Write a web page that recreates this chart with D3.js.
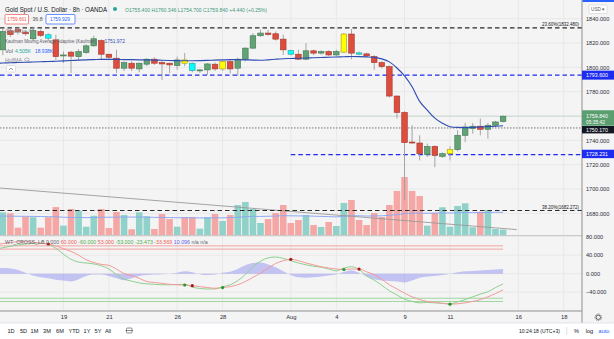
<!DOCTYPE html>
<html><head><meta charset="utf-8">
<script src="https://cdn.jsdelivr.net/npm/d3@7"></script>
<style>
html,body{margin:0;padding:0;background:#fff;}
svg{display:block;font-family:"Liberation Sans",Arial,sans-serif;}
</style></head><body>
<svg id="c" width="614" height="339"></svg>
<script>
// ---------------- DATA (bars -1 .. 66, 8h bars) ----------------
const barIndex = d3.range(-1, 67);
const open  = [1826,1814.4,1830,1831,1829,1823.5,1829.5,1826.8,1822.6,1809.8,1812.5,1808.8,1812.2,1817.7,1822,1810.8,1807.5,1799.3,1803.4,1798.7,1802.6,1806.7,1803.9,1803.4,1801.4,1806.1,1803.4,1797.6,1797.9,1802.6,1798.7,1804.7,1799.3,1806.7,1815.8,1826,1828.2,1827.6,1823.2,1813.8,1810.8,1806.7,1813.6,1811.7,1813,1810.2,1812.5,1827.4,1811.9,1811.1,1808.8,1803.9,1800.6,1776.4,1762.9,1738.6,1737.8,1728.4,1735,1726.8,1729,1732.3,1744.1,1749.7,1751.6,1749.1,1752.4,1755.4];
const high  = [1830,1832,1832,1832.5,1830,1833.4,1831,1828,1826.8,1813,1813.5,1815,1819,1826,1823,1811,1814.4,1805,1805,1804,1807.5,1808.3,1806.1,1804,1808.8,1811.7,1804,1798.7,1803.5,1804,1805.5,1806,1808,1816.5,1828.2,1831,1831,1829.5,1826.8,1814.5,1814.4,1819.9,1814.5,1814,1814,1814.5,1828.2,1831.5,1813,1812,1810,1805,1801.5,1777,1764,1752.4,1744.1,1737.3,1736,1730,1735,1748.3,1754.3,1754.3,1757.9,1754.3,1756,1760.346];
const low   = [1810,1810,1825,1827,1826,1822,1825,1822,1806.1,1803.6,1795.4,1806,1811,1817,1806,1807,1795.4,1797,1797,1796,1801,1802,1789.6,1795.4,1797.9,1801,1796,1795.4,1793.7,1797,1797,1795,1792.9,1805,1815,1825,1826,1822,1810.2,1810,1806,1806,1810,1810.5,1809,1809,1811.7,1806.7,1810,1808.5,1797.9,1799,1775.3,1757.9,1690.6,1737.3,1723.5,1726.2,1717.9,1725.5,1723.5,1731,1738.6,1745.5,1744.1,1741.4,1751,1754.7];
const close = [1815,1829.5,1827,1829.2,1827.6,1830.3,1826.2,1824,1808.8,1810.2,1809.2,1813,1817.7,1823.5,1810.8,1808.3,1799.3,1803.9,1799.3,1803.4,1806.7,1803.4,1802.8,1802,1806.1,1803.4,1797.3,1797.9,1802.8,1798.7,1804.7,1798.7,1806.7,1815.8,1826,1828.2,1827,1823.2,1814.4,1810.8,1806.7,1813.6,1811.7,1813,1810.2,1813,1827.4,1811.7,1810.8,1809.4,1803.9,1800.6,1776.4,1762.9,1738.1,1737.8,1729,1735,1727.6,1729,1732.3,1744.1,1751,1751.6,1749.1,1752.4,1755.1,1759.84];
const volumeK = [16.7,18.9,18.1,6.1,15.3,14.8,6.1,14.8,23.3,7.8,21.7,20.3,6.9,16.1,21.7,5.8,19.2,16.7,4.8,18.9,15.6,5.0,17.5,13.3,6.9,15.0,15.0,5.3,15.0,17.5,11.7,16.7,25.0,27.5,21.7,10.0,13.3,18.3,25.0,10.0,12.5,16.7,8.3,6.7,10.8,7.5,26.7,29.2,12.5,8.3,18.3,15.0,25.0,36.7,48.3,36.7,32.5,7.8,18.6,23.1,6.9,24.2,26.4,6.4,19.4,20.8,5.0,4.505];
const volMA = [15.8,15.8,15.7,15.6,15.6,15.5,15.4,15.3,15.2,14.8,14.6,14.6,14.5,14.6,14.8,14.8,14.9,15.0,14.9,15.0,14.9,14.7,14.6,14.5,14.4,14.4,14.3,14.2,14.2,14.3,14.3,14.5,14.8,15.2,15.5,15.5,15.6,15.8,16.1,16.0,15.9,15.9,15.7,15.5,15.3,15.1,15.6,16.1,16.0,15.8,15.9,16.0,16.4,17.0,17.8,18.2,18.3,18.1,18.2,18.4,18.3,18.5,18.7,18.6,18.7,18.8,18.9,18.938];
const kama = [1803.4,1803.6,1803.8,1804.0,1804.2,1804.4,1804.6,1804.8,1805.0,1805.3,1805.6,1805.9,1806.2,1806.4,1806.6,1806.6,1806.5,1806.4,1806.3,1806.2,1806.1,1806.0,1805.8,1805.6,1805.5,1805.4,1805.4,1805.5,1805.7,1805.9,1806.1,1806.3,1806.3,1806.2,1806.0,1805.8,1806.2,1806.7,1807.1,1807.3,1807.5,1807.7,1807.9,1808.1,1808.3,1808.5,1808.7,1808.9,1808.8,1808.6,1808.2,1807.0,1804.5,1799.5,1793.0,1784.0,1772.0,1764.8,1758.2,1754.0,1751.2,1750.6,1750.5,1750.7,1751.0,1751.3,1751.6,1751.972];
const wt1 = [52,56,59,62,64,65.5,66,63,55,42,31,25,23,21,17,10,-2,-12,-16,-20,-22,-23,-24,-24,-23.5,-23,-29,-32,-33,-33,-28,-24,-15,-2,15,27,34,36,33,28,23,19,16,14,10,6,12,15,9,-5,-14,-25,-37,-46,-55,-60,-63,-62,-63,-64,-65,-61,-56,-50,-44,-39,-30,-22];
const wt2 = [62,65,67,69,69,68,66,64,60,54,48,40,30,24,20,18,10,0,-4,-10,-17,-19,-21,-23,-24,-24.5,-26,-28,-30,-31.5,-30,-28,-24,-17,-8,1,12,22,28,31,28,23,19,15,12,10,9,10,10,4,-2,-12,-24,-33,-42,-50,-56,-60,-62,-64,-65.8,-65,-63,-60,-56,-50,-43,-35];
const wtHist = [12,12,11,8,2,-4,-8,-10,-13,-15,-17,-12,-5,-2,-2,-5,-10,-14,-10,-5,-3,-2,-1,0,2,5,3,-1,-3,-2,2,4,10,18,23,24,20,14,5,-3,-8,-9,-8,-6,-4,-2,4,7,2,-6,-12,-15,-16,-17,-19,-15,-9,-6,-5,-3,0,3,5,6,7,8,9,10];
const crossBars = [6,24,25,29,38,45,47,59];
const dateTicks = ["19","21","26","28","Aug","4","9","11","16","18"];
const dateTickBars = [8,14,23,29,38,44,53,59,68,74];
const priceTicks = [1680,1700,1720,1740,1760,1780,1800,1820,1840];
const wtTicks = [80,40,0,-40];
const wtLevels = [60,53,-60,-53];
const fibLabels = ["23.60%(1832.480)","38.20%(1682.272)"];
const fibValues = [1832.48,1682.272];
const resistanceLevel = 1793.6;
const supportLevel = 1728.231, supportStartBar = 38;
const prevCloseLevel = 1750.17;
const lastPrice = 1759.84;
const trendBars = [-0.4, 67.8], trendValues = [1700.8, 1666.6];
const rangeButtons = ["1D","5D","1M","3M","6M","YTD","1Y","5Y","All"];

// ---------------- SCALES ----------------
const AX = 582, MAIN_B = 235.5, IND_T = 236, IND_B = 311;
const x  = d3.scaleLinear().domain([0, 74]).range([2.8, 563.7]);
const yP = d3.scaleLinear().domain([1840, 1680]).range([18.7, 213.3]);
const yV = d3.scaleLinear().domain([0, 100]).range([235, 115]);
const yW = d3.scaleLinear().domain([80, -40]).range([236.6, 292.2]);

const svg = d3.select("#c");
const defs = svg.append("defs");
defs.append("clipPath").attr("id","cm").append("rect").attr("x",0).attr("y",0).attr("width",AX).attr("height",MAIN_B);
defs.append("clipPath").attr("id","ci").append("rect").attr("x",0).attr("y",IND_T).attr("width",AX).attr("height",IND_B-IND_T);

svg.append("rect").attr("width",614).attr("height",339).attr("fill","#ffffff");
svg.append("rect").attr("width",614).attr("height",323).attr("fill","#f4f4f4");

const grid = svg.append("g").attr("stroke","#e8e8e8").attr("stroke-width",1);
grid.selectAll(".vg").data(dateTickBars).join("line")
  .attr("x1",d=>x(d)).attr("x2",d=>x(d)).attr("y1",0).attr("y2",IND_B);
grid.selectAll(".hg").data(priceTicks).join("line")
  .attr("x1",0).attr("x2",AX).attr("y1",d=>yP(d)).attr("y2",d=>yP(d));
grid.selectAll(".wg").data(wtTicks).join("line")
  .attr("x1",0).attr("x2",AX).attr("y1",d=>yW(d)).attr("y2",d=>yW(d));

const rows = barIndex.map((b,i)=>({b, o:open[i], h:high[i], l:low[i], c:close[i], v:volumeK[i], ma:volMA[i], k:kama[i], w1:wt1[i], w2:wt2[i], hist:wtHist[i]}));

// ---------------- MAIN PANE ----------------
const main = svg.append("g").attr("clip-path","url(#cm)");
main.selectAll(".vol").data(rows).join("rect")
  .attr("x",d=>x(d.b)-3.3).attr("width",6.6)
  .attr("y",d=>yV(d.v)).attr("height",d=>yV(0)-yV(d.v))
  .attr("fill",d=>d.c>=d.o ? "#90d2c9" : "#f5a7a5");
main.append("path").datum(rows).attr("fill","none").attr("stroke","#8ea8f3").attr("stroke-width",1)
  .attr("d",d3.line().x(d=>x(d.b)).y(d=>yV(d.ma)));
main.append("line").attr("x1",x(trendBars[0])).attr("x2",x(trendBars[1]))
  .attr("y1",yP(trendValues[0])).attr("y2",yP(trendValues[1]))
  .attr("stroke","#9a9a9a").attr("stroke-width",0.9);

fibValues.forEach(v=>{
  main.append("line").attr("x1",0).attr("x2",AX).attr("y1",yP(v)).attr("y2",yP(v))
    .attr("stroke","#2a2a2a").attr("stroke-width",1.1).attr("stroke-dasharray","4.5,3");
});
main.append("line").attr("x1",0).attr("x2",AX).attr("y1",yP(resistanceLevel)).attr("y2",yP(resistanceLevel))
  .attr("stroke","#1e2cf0").attr("stroke-width",1.1).attr("stroke-dasharray","4.5,3");
main.append("line").attr("x1",x(supportStartBar)).attr("x2",AX).attr("y1",yP(supportLevel)).attr("y2",yP(supportLevel))
  .attr("stroke","#1e2cf0").attr("stroke-width",1.1).attr("stroke-dasharray","4.5,3");
main.append("line").attr("x1",0).attr("x2",AX).attr("y1",yP(prevCloseLevel)).attr("y2",yP(prevCloseLevel))
  .attr("stroke","#555").attr("stroke-width",0.8).attr("stroke-dasharray","1.5,1.5");
main.append("line").attr("x1",0).attr("x2",AX).attr("y1",yP(lastPrice)).attr("y2",yP(lastPrice))
  .attr("stroke","#5b9e70").attr("stroke-width",0.7).attr("opacity",0.35);

function barColor(d){
  const ci = crossBars.indexOf(d.b);
  if (ci >= 0) return d.w1 > d.w2 ? ["#ffff00","#a89a00"] : ["#00ffff","#2b9b9b"];
  return d.c >= d.o ? ["#62a275","#3f7a52"] : ["#dc4d3e","#a5372b"];
}
main.selectAll(".wick").data(rows).join("line")
  .attr("x1",d=>x(d.b)).attr("x2",d=>x(d.b)).attr("y1",d=>yP(d.h)).attr("y2",d=>yP(d.l))
  .attr("stroke","#9c9c9c").attr("stroke-width",0.9);
main.selectAll(".body").data(rows).join("rect")
  .attr("x",d=>x(d.b)-2.8).attr("width",5.6)
  .attr("y",d=>yP(Math.max(d.o,d.c)))
  .attr("height",d=>Math.max(1, Math.abs(yP(d.o)-yP(d.c))))
  .attr("fill",d=>barColor(d)[0]).attr("stroke",d=>barColor(d)[1]).attr("stroke-width",0.6);
main.append("path").datum(rows).attr("fill","none").attr("stroke","#2f4db3").attr("stroke-width",1.15)
  .attr("d",d3.line().curve(d3.curveMonotoneX).x(d=>x(d.b)).y(d=>yP(d.k)));

fibValues.forEach((v,i)=>{
  svg.append("text").attr("x",579).attr("y",yP(v)-1.8).attr("text-anchor","end")
    .attr("textLength",37).attr("lengthAdjust","spacingAndGlyphs")
    .style("font-size","5.6px").attr("fill","#131722").text(fibLabels[i]);
});

// ---------------- LEGEND ----------------
function txt(xp, yp, s, fs, fill, w, anchor){
  const t = svg.append("text").attr("x",xp).attr("y",yp).style("font-size",fs+"px").attr("fill",fill).text(s);
  if (w) t.attr("textLength",w).attr("lengthAdjust","spacingAndGlyphs");
  if (anchor) t.attr("text-anchor",anchor);
  return t;
}
function fitTxt(xp, yp, s, fs, fill, w){
  const t = svg.append("text").attr("x",xp).attr("y",yp).style("font-size",fs+"px").attr("fill",fill).text(s);
  const nw = t.node().getComputedTextLength();
  t.style("font-size",(fs*w/nw)+"px");
  return t;
}
txt(5, 11.5, "Gold Spot / U.S. Dollar · 8h · OANDA", 6.8, "#131722", 102);
svg.append("circle").attr("cx",115).attr("cy",9).attr("r",2).attr("fill","#26a69a");
txt(125, 11.5, `O${open[open.length-1].toFixed(3)} H${high[high.length-1].toFixed(3)} L${low[low.length-1].toFixed(3)} C${close[close.length-1].toFixed(3)} +4.440 (+0.25%)`, 5.6, "#3f9a80", 142);
svg.append("rect").attr("x",5).attr("y",14.5).attr("width",23.5).attr("height",9.5).attr("rx",1).attr("fill","#fff").attr("stroke","#ef5350").attr("stroke-width",0.7);
txt(7.3, 21.4, "1759.661", 5.4, "#ef5350", 19.4);
txt(32.5, 21.4, "36.8", 5.4, "#555", 10);
svg.append("rect").attr("x",46).attr("y",14.5).attr("width",29).attr("height",9.5).attr("rx",1).attr("fill","#fff").attr("stroke","#2962ff").attr("stroke-width",0.7);
txt(50, 21.4, "1759.929", 5.4, "#2962ff", 20);
txt(5, 33, "Chaikin", 6, "#8a8d96", 22);
svg.append("ellipse").attr("cx",31.5).attr("cy",30.5).attr("rx",2.3).attr("ry",1.5).attr("fill","none").attr("stroke","#888").attr("stroke-width",0.6);
fitTxt(5, 43, "Kaufman Moving Average Adaptive (Kaufman)", 6, "#5d606b", 92);
fitTxt(104.5, 43, "1751.972", 6, "#2f4db3", 20.5);
txt(5, 53, "Vol", 6, "#5d606b", 8);
txt(15, 53, "4.505K", 6, "#26a69a", 16);
txt(35, 53, "18.938K", 6, "#2962ff", 18);
txt(5, 62, "HullMA", 6, "#8a8d96", 17);
svg.append("ellipse").attr("cx",26.8).attr("cy",59.5).attr("rx",2.3).attr("ry",1.5).attr("fill","none").attr("stroke","#888").attr("stroke-width",0.6);
svg.append("rect").attr("x",6.5).attr("y",65.5).attr("width",9).attr("height",6.5).attr("rx",1).attr("fill","#fff").attr("stroke","#d0d0d0").attr("stroke-width",0.6);
svg.append("path").attr("d","M9,70 L11,68 L13,70").attr("fill","none").attr("stroke","#555").attr("stroke-width",0.6);

// ---------------- INDICATOR PANE ----------------
const ind = svg.append("g").attr("clip-path","url(#ci)");
const lastBar = barIndex[barIndex.length-1];
wtLevels.forEach(v=>{
  ind.append("line").attr("x1",0).attr("x2",x(lastBar)).attr("y1",yW(v)).attr("y2",yW(v))
    .attr("stroke", v>0 ? "#f3a3a3" : "#9fd69f").attr("stroke-width",1);
});
ind.append("path").datum(rows).attr("fill","rgba(100,100,240,0.35)").attr("stroke","none")
  .attr("d",d3.area().curve(d3.curveMonotoneX).x(d=>x(d.b)).y0(yW(0)).y1(d=>yW(d.hist)));
ind.append("path").datum(rows).attr("fill","none").attr("stroke","#8fd08f").attr("stroke-width",1)
  .attr("d",d3.line().curve(d3.curveMonotoneX).x(d=>x(d.b)).y(d=>yW(d.w1)));
ind.append("path").datum(rows).attr("fill","none").attr("stroke","#f29a9a").attr("stroke-width",1)
  .attr("d",d3.line().curve(d3.curveMonotoneX).x(d=>x(d.b)).y(d=>yW(d.w2)));
const crossRows = rows.filter(d=>crossBars.includes(d.b));
ind.selectAll(".dot").data(crossRows).join("circle")
  .attr("cx",d=>x(d.b)).attr("cy",d=>yW(d.w2)).attr("r",1.6)
  .attr("fill",d=>d.w1>d.w2 ? "#1f9a2a" : "#a81a1a");

(function(){
  const segs = [["WT_CROSS_LB 0.000","#5d606b"],["60.000","#f0605a"],["-60.000","#4caf50"],["53.000","#f0605a"],["-53.000","#4caf50"],["-23.473","#4caf50"],["-33.569","#f0605a"],["10.096","#5c5cf0"],["n/a n/a","#5d606b"]];
  const t = svg.append("text").attr("x",5).attr("y",244.2).style("font-size","6px");
  segs.forEach((s,i)=>t.append("tspan").attr("fill",s[1]).text((i?" ":"")+s[0]));
  const w = t.node().getComputedTextLength();
  t.style("font-size",(6*203/w)+"px");
})();

// ---------------- FRAME / AXES ----------------
svg.append("line").attr("x1",0).attr("x2",AX).attr("y1",MAIN_B).attr("y2",MAIN_B).attr("stroke","#c9c9c9").attr("stroke-width",1);
svg.append("line").attr("x1",0).attr("x2",AX).attr("y1",IND_B).attr("y2",IND_B).attr("stroke","#8f8f8f").attr("stroke-width",1);
svg.append("line").attr("x1",AX).attr("x2",AX).attr("y1",0).attr("y2",323).attr("stroke","#8f8f8f").attr("stroke-width",1);
svg.append("rect").attr("x",AX+0.5).attr("y",0).attr("width",32).attr("height",2).attr("fill","#2962ff");

function styleAxis(g, fs){
  g.select(".domain").remove();
  g.selectAll("line").remove();
  g.selectAll("text").style("font-size",fs+"px").style("font-family","'Liberation Sans',Arial,sans-serif").attr("fill","#2a2e39");
}
const pa = svg.append("g").attr("transform",`translate(${AX},0)`)
  .call(d3.axisRight(yP).tickValues(priceTicks).tickSize(0).tickPadding(4).tickFormat(d3.format(".3f")));
styleAxis(pa, 5.6);
const wa = svg.append("g").attr("transform",`translate(${AX},0)`)
  .call(d3.axisRight(yW).tickValues(wtTicks).tickSize(0).tickPadding(4).tickFormat(d3.format(".3f")));
styleAxis(wa, 5.6);
const da = svg.append("g").attr("transform",`translate(0,${IND_B})`)
  .call(d3.axisBottom(x).tickValues(dateTickBars).tickSize(0).tickPadding(4.2).tickFormat((d,i)=>dateTicks[i]));
styleAxis(da, 5.8);

svg.append("rect").attr("x",589).attr("y",5).attr("width",18).attr("height",8.5).attr("rx",1).attr("fill","#fff").attr("stroke","#d0d0d0").attr("stroke-width",0.6);
txt(591, 11.3, "USD ▾", 5, "#555", 14);

function axisBox(yc, h, fill, lines){
  svg.append("rect").attr("x",AX).attr("y",yc-h/2).attr("width",32).attr("height",h).attr("fill",fill);
  lines.forEach(l=>txt(586, l[1], l[0], l[2], "#fff", l[3]));
}
axisBox(yP(resistanceLevel), 9, "#1e2cf0", [["1793.600", yP(resistanceLevel)+2, 5.6, 22]]);
axisBox(118, 15.5, "#5b9e70", [[lastPrice.toFixed(3), 118.4, 5.6, 22],["05:35:42", 124.2, 5, 19]]);
axisBox(129.7, 7.4, "#131722", [[prevCloseLevel.toFixed(3), 131.8, 5.6, 22]]);
axisBox(yP(supportLevel)-0.7, 8.4, "#1e2cf0", [[supportLevel.toFixed(3), yP(supportLevel)+1.4, 5.6, 22]]);

svg.append("circle").attr("cx",598.3).attr("cy",317.3).attr("r",2.2).attr("fill","none").attr("stroke","#555").attr("stroke-width",0.9);
svg.append("circle").attr("cx",598.3).attr("cy",317.3).attr("r",3.3).attr("fill","none").attr("stroke","#555").attr("stroke-width",0.8).attr("stroke-dasharray","1.2,1");

// ---------------- BOTTOM TOOLBAR ----------------
svg.append("line").attr("x1",0).attr("x2",614).attr("y1",323).attr("y2",323).attr("stroke","#e0e3eb").attr("stroke-width",1);
const btnX = [11,23.5,34.5,47,60,74,87,98,108];
rangeButtons.forEach((b,i)=>txt(btnX[i], 332.5, b, 5.6, "#131722", null, "middle"));
svg.append("rect").attr("x",126.5).attr("y",328).attr("width",5.5).attr("height",5).attr("rx",0.8).attr("fill","none").attr("stroke","#444").attr("stroke-width",0.6);
svg.append("line").attr("x1",125.5).attr("x2",133).attr("y1",330.5).attr("y2",330.5).attr("stroke","#444").attr("stroke-width",0.6);
txt(519, 332.5, "10:24:18 (UTC+3)", 5.6, "#131722", 41);
svg.append("line").attr("x1",566.7).attr("x2",566.7).attr("y1",327).attr("y2",335).attr("stroke","#d6d6d6").attr("stroke-width",0.7);
txt(576.5, 332.5, "%", 5.6, "#131722", null, "middle");
txt(589.5, 332.5, "log", 5.6, "#131722", null, "middle");
txt(604, 332.5, "auto", 5.6, "#2962ff", null, "middle");
</script>
</body></html>
